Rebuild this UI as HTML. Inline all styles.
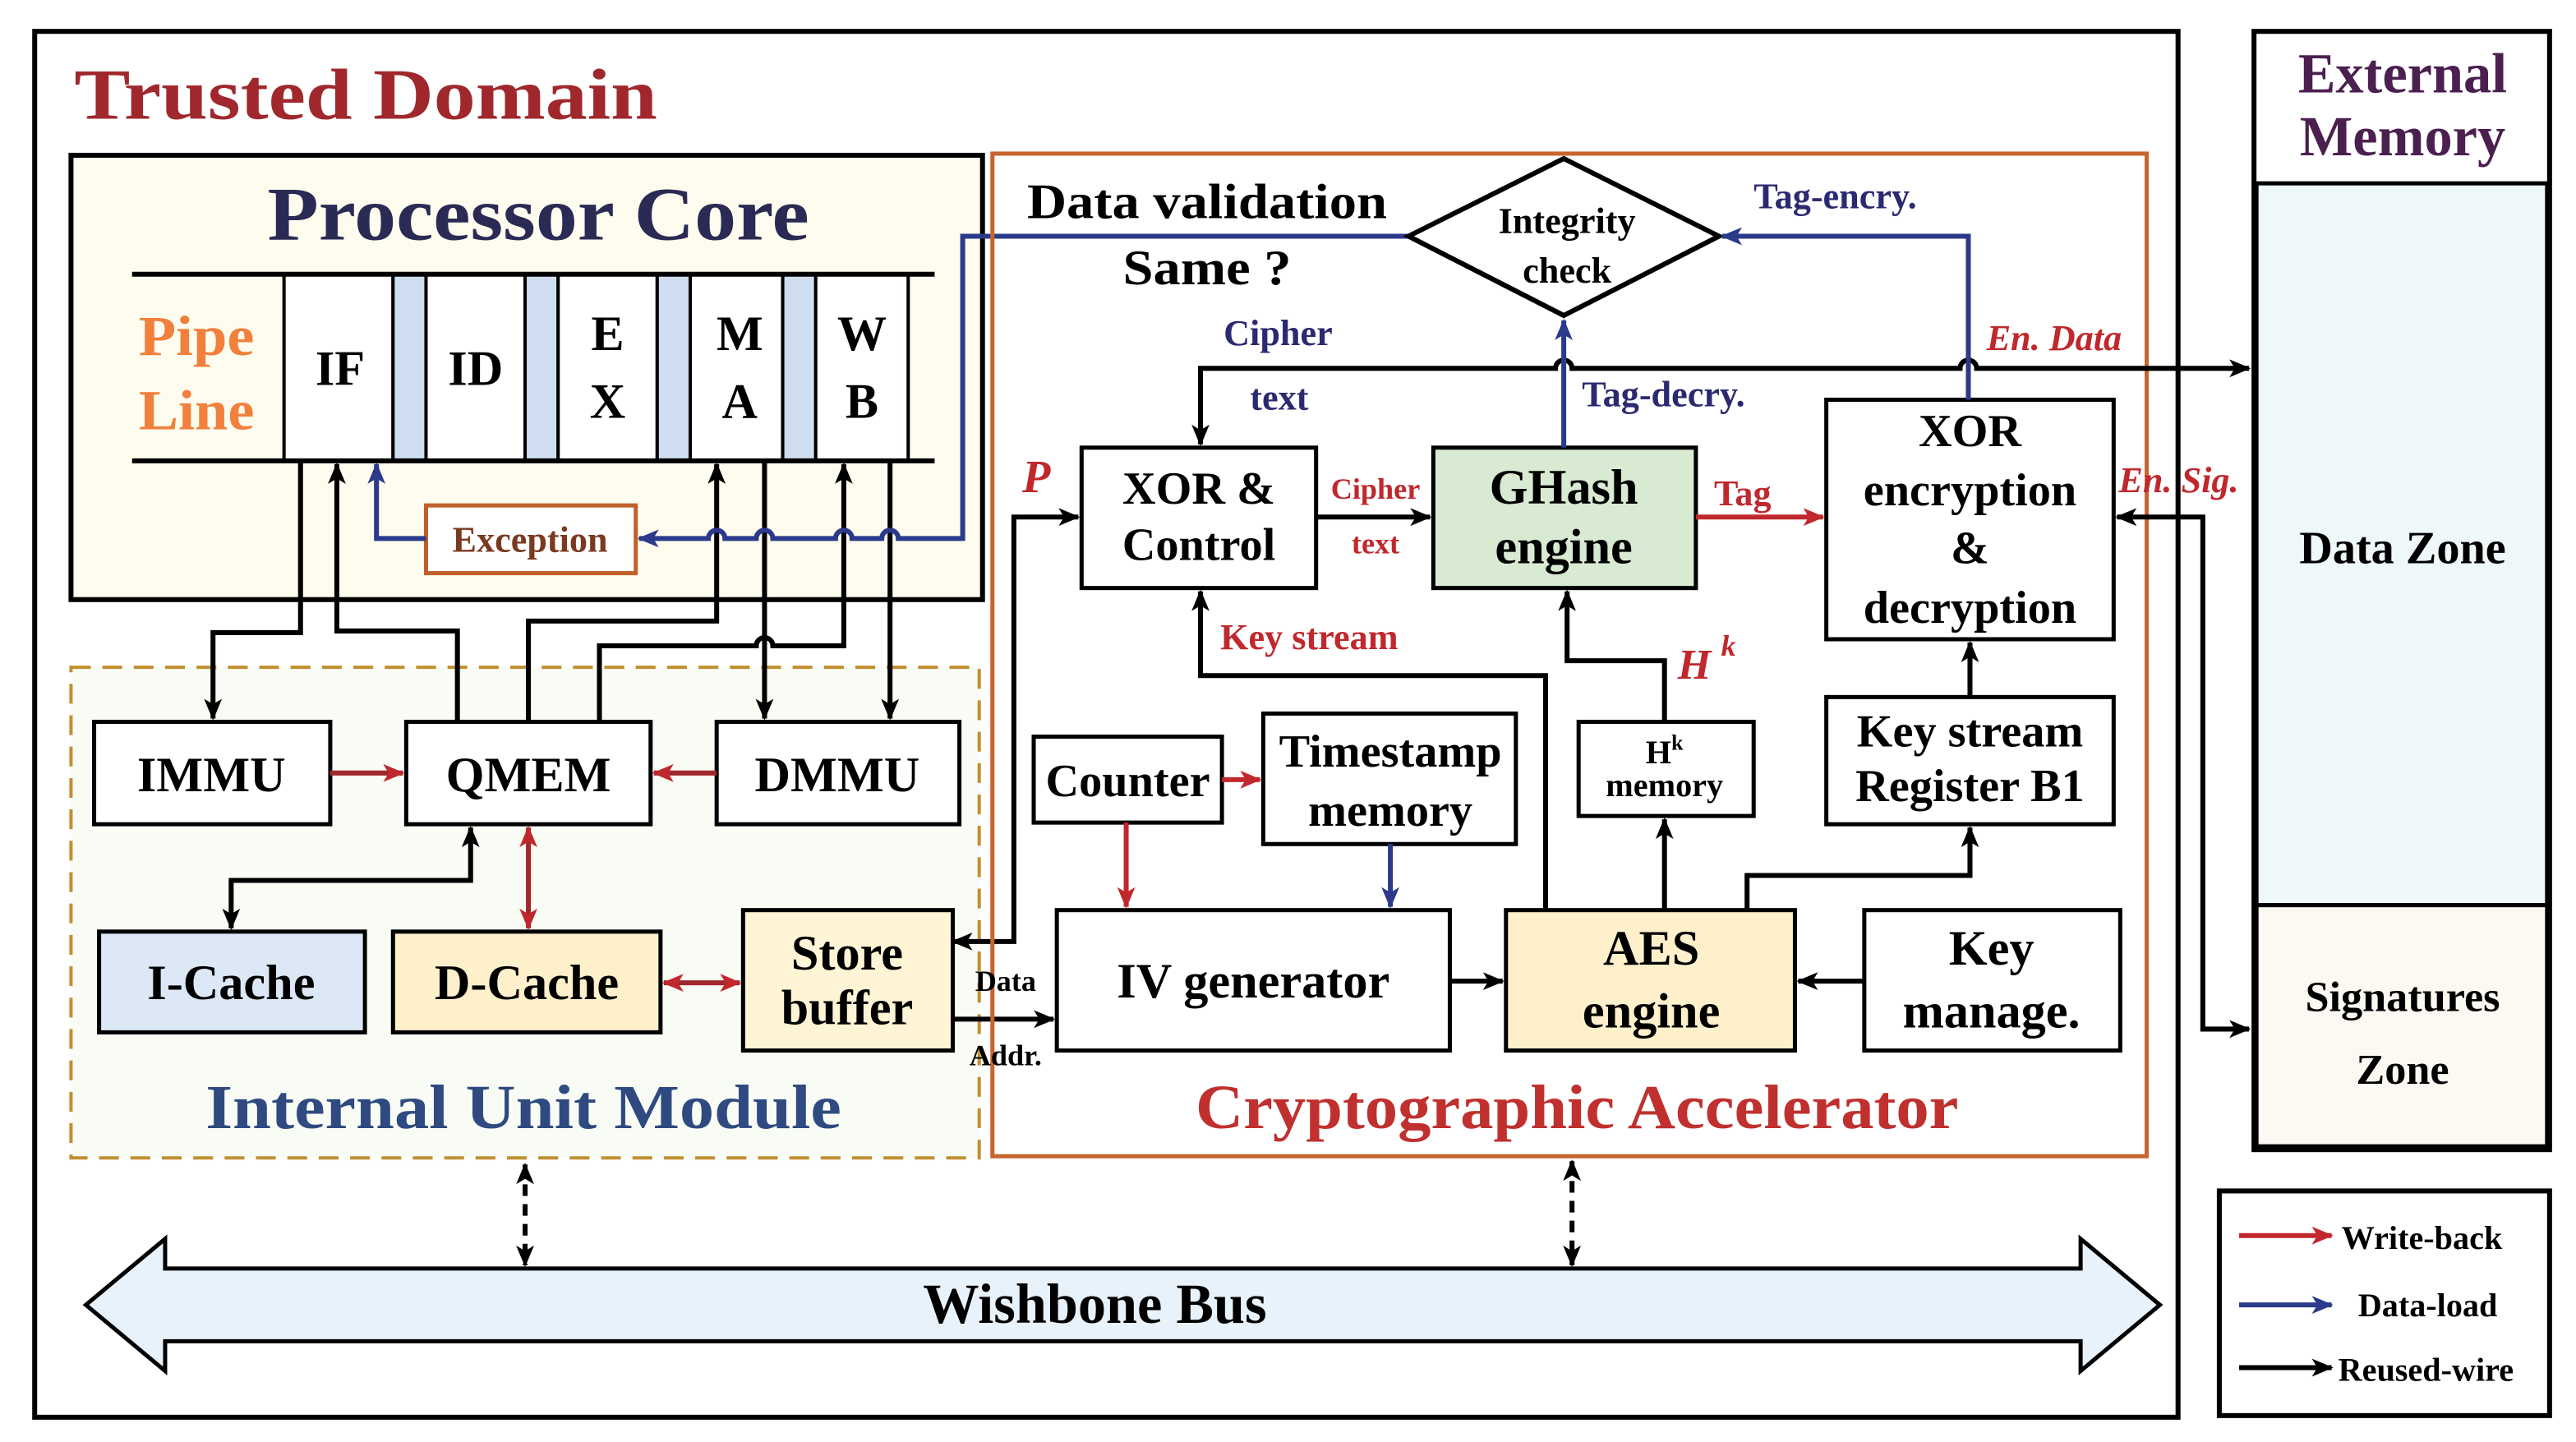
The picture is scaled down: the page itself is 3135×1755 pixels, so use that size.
<!DOCTYPE html>
<html><head><meta charset="utf-8"><style>
html,body{margin:0;padding:0;background:#fff;}
svg{display:block;}
text{font-family:"Liberation Serif",serif;font-weight:bold;}
</style></head><body>
<svg width="3135" height="1755" viewBox="0 0 1560 873" preserveAspectRatio="none" xmlns="http://www.w3.org/2000/svg">
<defs>
<marker id="ak" viewBox="0 0 12 10" refX="11" refY="5" markerWidth="13" markerHeight="11" markerUnits="userSpaceOnUse" orient="auto-start-reverse"><path d="M0,0 L12,5 L0,10 L3,5 z" fill="#000"/></marker>
<marker id="ar" viewBox="0 0 12 10" refX="11" refY="5" markerWidth="13" markerHeight="11" markerUnits="userSpaceOnUse" orient="auto-start-reverse"><path d="M0,0 L12,5 L0,10 L3,5 z" fill="#c0282d"/></marker>
<marker id="ab" viewBox="0 0 12 10" refX="11" refY="5" markerWidth="13" markerHeight="11" markerUnits="userSpaceOnUse" orient="auto-start-reverse"><path d="M0,0 L12,5 L0,10 L3,5 z" fill="#2b3a8a"/></marker>
</defs>
<rect width="1560" height="873" fill="#fff"/>
<rect x="21" y="19" width="1298" height="839" fill="#fff" stroke="#000" stroke-width="3"/>
<text x="45" y="72" font-size="44" fill="#a0282d" textLength="353" lengthAdjust="spacingAndGlyphs">Trusted Domain</text>

<rect x="1365" y="19" width="179" height="677" fill="#fff" stroke="#000" stroke-width="3"/>
<rect x="1366.5" y="111" width="176" height="437" fill="#eef8f8" stroke="#000" stroke-width="2.5"/>
<rect x="1366.5" y="548" width="176" height="146" fill="#fbf9f1" stroke="#000" stroke-width="2.5"/>
<text x="1455" y="56" font-size="34" fill="#4b1f4f" text-anchor="middle">External</text>
<text x="1455" y="94" font-size="34" fill="#4b1f4f" text-anchor="middle">Memory</text>
<text x="1455" y="341" font-size="28" text-anchor="middle">Data Zone</text>
<text x="1455" y="612" font-size="26" text-anchor="middle">Signatures</text>
<text x="1455" y="656" font-size="26" text-anchor="middle">Zone</text>

<rect x="1344" y="721" width="200" height="136" fill="#fff" stroke="#000" stroke-width="3"/>
<line x1="1356" y1="748" x2="1412" y2="748" stroke="#c0282d" stroke-width="3" marker-end="url(#ar)"/>
<line x1="1356" y1="790" x2="1412" y2="790" stroke="#2b3a8a" stroke-width="3" marker-end="url(#ab)"/>
<line x1="1356" y1="828" x2="1412" y2="828" stroke="#000" stroke-width="3" marker-end="url(#ak)"/>
<text x="1418" y="756" font-size="20">Write-back</text>
<text x="1428" y="797" font-size="20">Data-load</text>
<text x="1416" y="836" font-size="20">Reused-wire</text>

<rect x="43" y="94" width="552" height="269" fill="#fefcee" stroke="#000" stroke-width="3"/>
<text x="162" y="145" font-size="46" fill="#2b2a55" textLength="328" lengthAdjust="spacingAndGlyphs">Processor Core</text>
<text x="84" y="215" font-size="34" fill="#f0803c" textLength="70" lengthAdjust="spacingAndGlyphs">Pipe</text>
<text x="84" y="260" font-size="34" fill="#f0803c" textLength="70" lengthAdjust="spacingAndGlyphs">Line</text>
<g stroke="#000" stroke-width="2">
<rect x="172" y="166" width="66" height="113" fill="#fff"/>
<rect x="238" y="166" width="20" height="113" fill="#cfddf0"/>
<rect x="258" y="166" width="60" height="113" fill="#fff"/>
<rect x="318" y="166" width="20" height="113" fill="#cfddf0"/>
<rect x="338" y="166" width="60" height="113" fill="#fff"/>
<rect x="398" y="166" width="20" height="113" fill="#cfddf0"/>
<rect x="418" y="166" width="56" height="113" fill="#fff"/>
<rect x="474" y="166" width="20" height="113" fill="#cfddf0"/>
<rect x="494" y="166" width="56" height="113" fill="#fff"/>
</g>
<line x1="80" y1="166" x2="566" y2="166" stroke="#000" stroke-width="3"/>
<line x1="80" y1="279" x2="566" y2="279" stroke="#000" stroke-width="3"/>
<g font-size="30" text-anchor="middle">
<text x="206" y="233">IF</text><text x="288" y="233">ID</text>
<text x="368" y="212">E</text><text x="368" y="253">X</text>
<text x="448" y="212">M</text><text x="448" y="253">A</text>
<text x="522" y="212">W</text><text x="522" y="253">B</text>
</g>
<rect x="258" y="306" width="127" height="41" fill="#fff" stroke="#c0602a" stroke-width="2.5"/>
<text x="321" y="334" font-size="22" fill="#7a3a20" text-anchor="middle">Exception</text>

<rect x="43" y="404" width="550" height="297" fill="#f9fbf5" stroke="#c09030" stroke-width="2" stroke-dasharray="12,7"/>
<g stroke="#000" stroke-width="2.5">
<rect x="57" y="437" width="143" height="62" fill="#fff"/>
<rect x="246" y="437" width="148" height="62" fill="#fff"/>
<rect x="434" y="437" width="147" height="62" fill="#fff"/>
<rect x="60" y="564" width="161" height="61" fill="#dce8f6"/>
<rect x="238" y="564" width="162" height="61" fill="#fff0cc"/>
<rect x="450" y="551" width="127" height="85" fill="#fff5d6"/>
</g>
<g font-size="30" text-anchor="middle">
<text x="128" y="479">IMMU</text><text x="320" y="479">QMEM</text><text x="507" y="479">DMMU</text>
<text x="140" y="605">I-Cache</text><text x="319" y="605">D-Cache</text>
<text x="513" y="587">Store</text><text x="513" y="620">buffer</text>
</g>
<text x="317" y="683" font-size="38" fill="#2e4a80" text-anchor="middle" textLength="385" lengthAdjust="spacingAndGlyphs">Internal Unit Module</text>

<g fill="none" stroke="#000" stroke-width="3">
<path d="M182,279 V383 H129 V435" marker-end="url(#ak)"/>
<path d="M277,437 V382 H204 V281" marker-end="url(#ak)"/>
<path d="M320,437 V376 H434 V281" marker-end="url(#ak)"/>
<path d="M363,437 V391 H458 A5,5 0 0 1 468,391 H511 V281" marker-end="url(#ak)"/>
<path d="M463,279 V435" marker-end="url(#ak)"/>
<path d="M539,279 V435" marker-end="url(#ak)"/>
<path d="M285,501 V533 H140 V562" marker-start="url(#ak)" marker-end="url(#ak)"/>
<path d="M577,570 H614 V313 H653" marker-start="url(#ak)" marker-end="url(#ak)"/>
<path d="M577,617 H638" marker-end="url(#ak)"/>
</g>
<g fill="none" stroke="#2b3a8a" stroke-width="3">
<path d="M853,143 H583 V326 H544 A5,5 0 0 0 534,326 H516 A5,5 0 0 0 506,326 H468 A5,5 0 0 0 458,326 H439 A5,5 0 0 0 429,326 H387" marker-end="url(#ab)"/>
<path d="M258,326 H228 V281" marker-end="url(#ab)"/>
</g>
<g fill="none" stroke="#a0282d" stroke-width="3">
<path d="M200,468 H244" marker-end="url(#ar)"/>
<path d="M434,468 H396" marker-end="url(#ar)"/>
<path d="M320,501 V562" marker-start="url(#ar)" marker-end="url(#ar)"/>
<path d="M402,595 H448" marker-start="url(#ar)" marker-end="url(#ar)"/>
</g>

<rect x="601" y="93" width="699" height="607" fill="none" stroke="#c8642e" stroke-width="2.5"/>

<polygon points="947,96 1041,143 947,191 853,143" fill="#fff" stroke="#000" stroke-width="3"/>
<text x="949" y="141" font-size="22" text-anchor="middle">Integrity</text>
<text x="949" y="171" font-size="22" text-anchor="middle">check</text>
<text x="622" y="132" font-size="30" textLength="218" lengthAdjust="spacingAndGlyphs">Data validation</text>
<text x="680" y="172" font-size="30" textLength="102" lengthAdjust="spacingAndGlyphs">Same ?</text>
<text x="741" y="209" font-size="22" fill="#2b2a70">Cipher</text>
<text x="757" y="248" font-size="22" fill="#2b2a70">text</text>
<text x="1062" y="126" font-size="22" fill="#2b2a70">Tag-encry.</text>
<text x="958" y="246" font-size="22" fill="#2b2a70">Tag-decry.</text>
<text x="1203" y="212" font-size="22" fill="#c0282d" font-style="italic">En. Data</text>
<text x="1283" y="298" font-size="22" fill="#c0282d" font-style="italic">En. Sig.</text>
<text x="619" y="298" font-size="28" fill="#c0282d" font-style="italic">P</text>

<g stroke="#000" stroke-width="2.5">
<rect x="655" y="271" width="142" height="85" fill="#fff"/>
<rect x="868" y="271" width="159" height="85" fill="#d9ead3"/>
<rect x="1106" y="242" width="174" height="145" fill="#fff"/>
<rect x="956" y="437" width="106" height="57" fill="#fff"/>
<rect x="1106" y="422" width="174" height="77" fill="#fff"/>
<rect x="626" y="446" width="114" height="52" fill="#fff"/>
<rect x="765" y="432" width="153" height="79" fill="#fff"/>
<rect x="640" y="551" width="238" height="85" fill="#fff"/>
<rect x="912" y="551" width="175" height="85" fill="#fff0cc"/>
<rect x="1129" y="551" width="155" height="85" fill="#fff"/>
</g>
<g font-size="28" text-anchor="middle">
<text x="726" y="305">XOR &amp;</text><text x="726" y="339">Control</text>
<text x="947" y="305" font-size="30">GHash</text><text x="947" y="341" font-size="30">engine</text>
<text x="1193" y="270">XOR</text><text x="1193" y="306">encryption</text><text x="1193" y="341">&amp;</text><text x="1193" y="377">decryption</text>
<text x="1193" y="452">Key stream</text><text x="1193" y="485">Register B1</text>
<text x="683" y="482">Counter</text>
<text x="842" y="464">Timestamp</text><text x="842" y="500">memory</text>
<text x="759" y="604" font-size="30">IV generator</text>
<text x="1000" y="584" font-size="30">AES</text><text x="1000" y="622" font-size="30">engine</text>
<text x="1206" y="584" font-size="30">Key</text><text x="1206" y="622" font-size="30">manage.</text>
</g>
<text x="1008" y="462" font-size="20" text-anchor="middle">H<tspan font-size="13" dy="-8">k</tspan></text>
<text x="1008" y="482" font-size="20" text-anchor="middle">memory</text>
<text x="833" y="302" font-size="18" fill="#c0282d" text-anchor="middle">Cipher</text>
<text x="833" y="335" font-size="18" fill="#c0282d" text-anchor="middle">text</text>
<text x="1038" y="306" font-size="22" fill="#c0282d">Tag</text>
<text x="739" y="393" font-size="22" fill="#c0282d">Key stream</text>
<text x="1016" y="411" font-size="26" fill="#c0282d" font-style="italic">H<tspan font-size="18" dy="-14" dx="6">k</tspan></text>
<text x="955" y="683" font-size="38" fill="#c0302e" text-anchor="middle" textLength="462" lengthAdjust="spacingAndGlyphs">Cryptographic Accelerator</text>

<g fill="none" stroke="#000" stroke-width="3">
<path d="M727,269 V223 H942 A5,5 0 0 1 952,223 H1187 A5,5 0 0 1 1197,223 H1362" marker-start="url(#ak)" marker-end="url(#ak)"/>
<path d="M797,313 H866" marker-end="url(#ak)"/>
<path d="M936,551 V409 H727 V358" marker-end="url(#ak)"/>
<path d="M1008,437 V400 H949 V358" marker-end="url(#ak)"/>
<path d="M1008,551 V496" marker-end="url(#ak)"/>
<path d="M1058,551 V530 H1193 V501" marker-end="url(#ak)"/>
<path d="M1193,422 V389" marker-end="url(#ak)"/>
<path d="M878,594 H910" marker-end="url(#ak)"/>
<path d="M1129,594 H1089" marker-end="url(#ak)"/>
<path d="M1282,313 H1334 V623 H1362" marker-start="url(#ak)" marker-end="url(#ak)"/>
</g>
<g fill="none" stroke="#2b3a8a" stroke-width="3">
<path d="M947,271 V194" marker-end="url(#ab)"/>
<path d="M1192,242 V143 H1043" marker-end="url(#ab)"/>
<path d="M842,511 V549" marker-end="url(#ab)"/>
</g>
<g fill="none" stroke="#c0282d" stroke-width="3">
<path d="M1027,313 H1104" marker-end="url(#ar)"/>
<path d="M740,472 H763" marker-end="url(#ar)"/>
<path d="M682,498 V549" marker-end="url(#ar)"/>
</g>

<text x="609" y="600" font-size="18" text-anchor="middle">Data</text>
<text x="609" y="645" font-size="18" text-anchor="middle">Addr.</text>

<polygon points="52,790 100,750 100,768 1260,768 1260,750 1308,790 1260,830 1260,812 100,812 100,830" fill="#e8f2fa" stroke="#000" stroke-width="2.5"/>
<text x="663" y="801" font-size="34" text-anchor="middle">Wishbone Bus</text>
<g fill="none" stroke="#000" stroke-width="3" stroke-dasharray="7,5">
<path d="M318,705 V766" marker-start="url(#ak)" marker-end="url(#ak)"/>
<path d="M952,703 V766" marker-start="url(#ak)" marker-end="url(#ak)"/>
</g>
</svg>
</body></html>
